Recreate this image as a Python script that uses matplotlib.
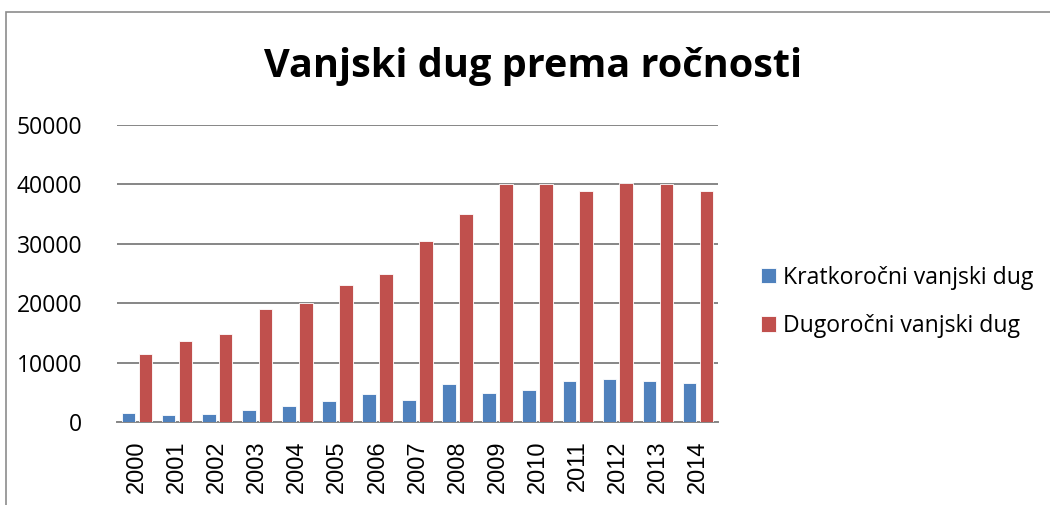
import matplotlib as mpl
import matplotlib.pyplot as plt
from matplotlib.patches import Rectangle
import numpy as np

mpl.use("Agg")

# data
years = ["2000", "2001", "2002", "2003", "2004", "2005", "2006", "2007",
         "2008", "2009", "2010", "2011", "2012", "2013", "2014"]
short_term = [1450, 1230, 1290, 1960, 2690, 3470, 4700, 3700,
              6330, 4930, 5430, 6940, 7220, 6940, 6550]
long_term = [11420, 13660, 14840, 18980, 20040, 23010, 24970, 30520,
             34990, 40030, 40150, 38970, 40310, 40030, 38970]
labels = ["Kratkoročni vanjski dug", "Dugoročni vanjski dug"]

BLUE = "#4F81BD"
RED = "#C0504D"
GRID = "#868686"

W, H = 1050, 505
fig = plt.figure(figsize=(W / 100, H / 100), dpi=100)
fig.patch.set_facecolor("white")

# outer chart frame (left and top edges are visible)
fig.add_artist(Rectangle((6 / W, -0.1), 1.2, 1 - 12 / H + 0.1,
                         transform=fig.transFigure, fill=False,
                         edgecolor="#8c8c8c", linewidth=1.2))

ax = fig.add_axes([117 / W, (H - 422) / H, 601 / W, 297 / H])
x = np.arange(len(years))
bw = 0.34
ax.bar(x - 0.21, short_term, width=bw, color=BLUE, edgecolor="white",
       linewidth=0.6, label=labels[0], zorder=3)
ax.bar(x + 0.21, long_term, width=bw, color=RED, edgecolor="white",
       linewidth=0.6, label=labels[1], zorder=3)

ax.set_xlim(-0.5, len(years) - 0.5)
ax.set_ylim(0, 50000)
ax.set_yticks(range(0, 50001, 10000))
ax.set_xticks(x)
ax.set_xticklabels(years, rotation=90, fontsize=17,
                   family="Liberation Sans")
for lbl in ax.get_yticklabels():
    lbl.set_family("Open Sans")
    lbl.set_fontsize(16.5)
ax.tick_params(axis="x", length=0, pad=13)
ax.tick_params(axis="y", length=0, pad=25)
ax.grid(axis="y", color=GRID, linewidth=1.4, zorder=0)
ax.set_axisbelow(True)
for s in ["top", "right", "left"]:
    ax.spines[s].set_visible(False)
ax.spines["bottom"].set_color(GRID)
ax.spines["bottom"].set_linewidth(1.4)

fig.text(533 / W, 1 - 66 / H, "Vanjski dug prema ročnosti",
         ha="center", va="center", fontsize=28.5, fontweight="bold",
         family="Open Sans")

fig.legend(loc="center left", bbox_to_anchor=(761 / W, 1 - 302 / H),
           frameon=False, prop={"family": "Open Sans", "size": 16.6},
           handlelength=0.65, handleheight=0.65, handletextpad=0.32,
           labelspacing=1.05, borderpad=0, borderaxespad=0)

fig.savefig("out.png", dpi=100, facecolor="white")
